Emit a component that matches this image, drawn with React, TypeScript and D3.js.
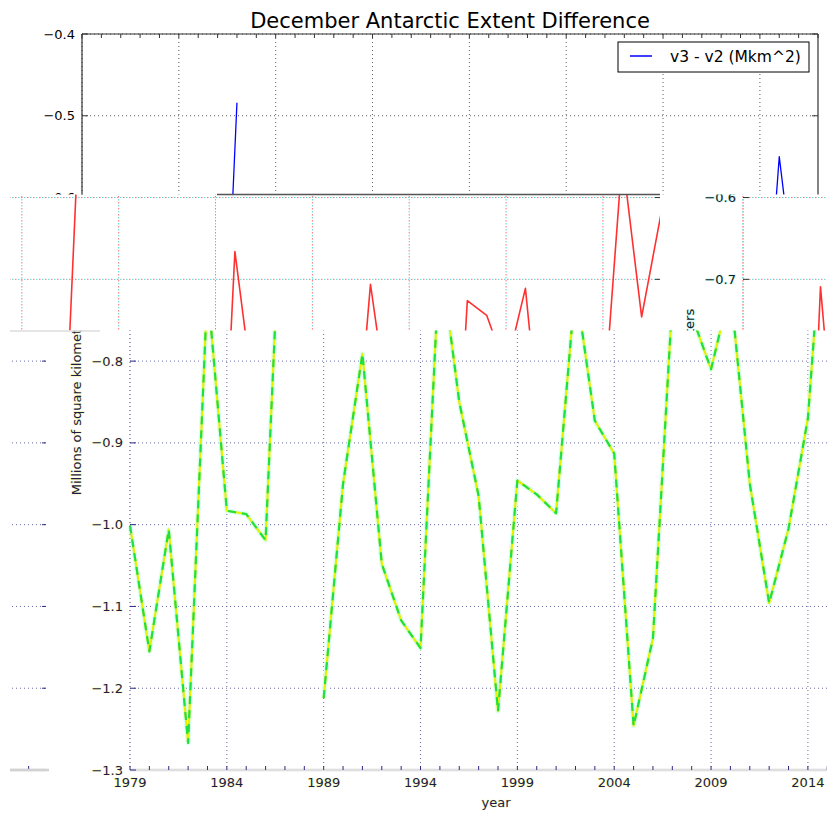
import React from 'react'
import * as d3 from 'd3'

// December Antarctic extent, v3 - v2, millions of km^2 (1988 missing)
const years = [
  1979, 1980, 1981, 1982, 1983, 1984, 1985, 1986, 1987, 1988,
  1989, 1990, 1991, 1992, 1993, 1994, 1995, 1996, 1997, 1998,
  1999, 2000, 2001, 2002, 2003, 2004, 2005, 2006, 2007, 2008,
  2009, 2010, 2011, 2012, 2013, 2014, 2015, 2016, 2017,
]
const diffV3V2: (number | null)[] = [
  -1.001, -1.155, -1.006, -1.267, -0.709, -0.983, -0.987, -1.019, -0.484, null,
  -1.212, -0.95, -0.791, -1.048, -1.117, -1.151, -0.666, -0.85, -0.965, -1.228,
  -0.946, -0.963, -0.986, -0.706, -0.873, -0.913, -1.246, -1.139, -0.726, -0.744,
  -0.81, -0.711, -0.95, -1.096, -1.005, -0.87, -0.55, -0.746, -0.62,
]
const xTickYears = [1979, 1984, 1989, 1994, 1999, 2004, 2009, 2014]
const yTicks = [-1.3, -1.2, -1.1, -1.0, -0.9, -0.8, -0.7, -0.6, -0.5, -0.4]

const title = 'December Antarctic Extent Difference'
const legendLabel = 'v3 - v2 (Mkm^2)'
const xLabel = 'year'
const yLabel = 'Millions of square kilometers'

const W = 827
const H = 813
const font = 'DejaVu Sans'

type Stroke = { color: string; width: number; dash?: string; offset?: number }
type Theme = {
  line: Stroke[]
  grid: Stroke[]
  spineLeft: Stroke[]
  spineBottom: Stroke[]
  spineOther: Stroke[]
  tick: string
  text: string
  halo?: string
}

const plain: Theme = {
  line: [{ color: '#0000ff', width: 1.3 }],
  grid: [{ color: '#333', width: 0.8, dash: '1 3' }],
  spineLeft: [{ color: '#333', width: 1.2 }],
  spineBottom: [{ color: '#333', width: 1.2 }],
  spineOther: [{ color: '#333', width: 1.2 }],
  tick: '#333',
  text: '#000',
}

const redShift: Theme = {
  line: [{ color: '#ff3030', width: 1.6 }],
  grid: [
    { color: '#ff7070', width: 1, dash: '1.5 4.5' },
    { color: '#5ad8d8', width: 1, dash: '1.5 4.5', offset: 3 },
  ],
  spineLeft: [
    { color: '#ff9090', width: 1, dash: '1.5 4.5' },
    { color: '#70c8c8', width: 1, dash: '1.5 4.5', offset: 3 },
  ],
  spineBottom: [{ color: '#ddd', width: 1.5 }],
  spineOther: [{ color: '#555', width: 1.2 }],
  tick: '#333',
  text: '#1a1a1a',
  halo: '#9af2f2',
}

const greenShift: Theme = {
  line: [
    { color: '#dcfff2', width: 5 },
    { color: '#e4f000', width: 2.2 },
    { color: '#20e040', width: 2.2, dash: '8 6' },
  ],
  grid: [{ color: '#6a6aa6', width: 1, dash: '1 3' }],
  spineLeft: [{ color: '#8484a4', width: 1, dash: '1 3' }],
  spineBottom: [
    { color: '#d2d2d2', width: 2.6 },
    { color: '#f2f2f2', width: 0.8 },
  ],
  spineOther: [{ color: '#8484a4', width: 1, dash: '1 3' }],
  tick: '#2a2a88',
  text: '#1c1c4c',
  halo: '#f6f690',
}

// the picture is broken into bands, each a copy of the chart moved sideways
const bands = [
  { id: 'b1', rect: [0, 0, 827, 194.5], dx: 0, theme: plain },
  { id: 'b2a', rect: [10, 194.5, 650, 136], dx: -157, theme: redShift },
  { id: 'b2b', rect: [660, 194.5, 167, 136], dx: 661, theme: redShift },
  { id: 'b3a', rect: [50, 330.5, 777, 483], dx: 48, theme: greenShift },
  { id: 'b3b', rect: [10, 330.5, 36, 445], dx: -770, theme: greenShift },
]
const seams = [
  { x1: 217, x2: 660, y: 194.5, color: '#555', w: 1.5 },
  { x1: 10, x2: 100, y: 331, color: '#ddd', w: 1.5 },
  { x1: 10, x2: 49, y: 770, color: '#d2d2d2', w: 2.6 },
]

const x = d3.scaleLinear().domain([1979, 2017]).range([82, 818])
const y = d3.scaleLinear().domain([-1.3, -0.4]).range([770, 34])
const fmt = d3.format('.1f')

const Seg = ({ strokes, x1, y1, x2, y2 }: any) => (
  <>
    {strokes.map((s: Stroke, i: number) => (
      <line key={i} x1={x1} y1={y1} x2={x2} y2={y2} stroke={s.color}
        strokeWidth={s.width} strokeDasharray={s.dash} strokeDashoffset={s.offset} />
    ))}
  </>
)

type Band = (typeof bands)[number]

const Chart = ({ band }: { band: Band }) => {
  const theme = band.theme
  const [x0, x1] = x.range()
  const [y0, y1] = y.range()
  const [bx, by, bw, bh] = band.rect
  // only keep texts whose box reaches into this band
  const seen = (l: number, r: number, t: number, b: number) =>
    r + band.dx > bx && l + band.dx < bx + bw && b > by && t < by + bh

  const lineGen = d3
    .line<number | null>()
    .defined((d) => d != null)
    .x((d, i) => x(years[i]))
    .y((d) => y(d as number))
  const path = lineGen(diffV3V2) || ''
  const t = {
    fill: theme.text,
    stroke: theme.halo || 'none',
    strokeWidth: theme.halo ? 0.7 : 0,
    paintOrder: 'stroke',
    fontFamily: font,
  }
  const cx = (x0 + x1) / 2
  const cy = (y0 + y1) / 2
  return (
    <g>
      {xTickYears.map((yr) => (
        <Seg key={'gx' + yr} strokes={theme.grid} x1={x(yr)} x2={x(yr)} y1={y1} y2={y0} />
      ))}
      {yTicks.map((v) => (
        <Seg key={'gy' + v} strokes={theme.grid} x1={x0} x2={x1} y1={y(v)} y2={y(v)} />
      ))}

      {theme.line.map((s, i) => (
        <path key={i} d={path} fill="none" stroke={s.color} strokeWidth={s.width}
          strokeDasharray={s.dash} strokeLinejoin="round" />
      ))}

      <Seg strokes={theme.spineLeft} x1={x0} x2={x0} y1={y1} y2={y0} />
      <Seg strokes={theme.spineOther} x1={x1} x2={x1} y1={y1} y2={y0} />
      <Seg strokes={theme.spineOther} x1={x0} x2={x1} y1={y1} y2={y1} />
      <Seg strokes={theme.spineBottom} x1={x0} x2={x1} y1={y0} y2={y0} />

      {years.map((yr) => (
        <g key={'tx' + yr} stroke={theme.tick} strokeWidth={1}>
          <line x1={x(yr)} x2={x(yr)} y1={y0} y2={y0 - 4} />
          <line x1={x(yr)} x2={x(yr)} y1={y1} y2={y1 + 4} />
        </g>
      ))}
      {yTicks.map((v) => (
        <g key={'ty' + v} stroke={theme.tick} strokeWidth={1}>
          <line x1={x0} x2={x0 + 6} y1={y(v)} y2={y(v)} />
          <line x1={x1} x2={x1 - 6} y1={y(v)} y2={y(v)} />
        </g>
      ))}

      {yTicks
        .filter((v) => seen(x0 - 38, x0 - 7, y(v) - 9, y(v) + 6))
        .map((v) => (
          <text key={'ly' + v} x={x0 - 7} y={y(v)} dy="0.35em" textAnchor="end" fontSize={13} {...t}>
            {fmt(v)}
          </text>
        ))}
      {xTickYears
        .filter((yr) => seen(x(yr) - 16, x(yr) + 16, y0 + 5, y0 + 20))
        .map((yr) => (
          <text key={'lx' + yr} x={x(yr)} y={y0 + 17} textAnchor="middle" fontSize={13} {...t}>
            {yr}
          </text>
        ))}

      {seen(cx - 200, cx + 200, 10, 30) && (
        <text x={cx} y={28} textAnchor="middle" fontSize={21} {...t}>
          {title}
        </text>
      )}
      {seen(cx - 20, cx + 20, y0 + 26, y0 + 40) && (
        <text x={cx - 2} y={y0 + 37} textAnchor="middle" fontSize={13} {...t}>
          {xLabel}
        </text>
      )}
      {seen(22, 36, cy - 100, cy + 100) && (
        <text transform={`translate(33,${cy}) rotate(-90)`} textAnchor="middle" fontSize={13} {...t}>
          {yLabel}
        </text>
      )}

      {seen(618, 809, 42, 72) && (
        <g>
          <rect x={618} y={42} width={191} height={30} fill="#fff" stroke="#000" strokeWidth={1} />
          <line x1={630} x2={652} y1={56} y2={56} stroke={theme.line[theme.line.length - 1].color}
            strokeWidth={1.3} />
          <text x={670} y={62} fontSize={15.5} {...t}>
            {legendLabel}
          </text>
        </g>
      )}
    </g>
  )
}

export default function App() {
  return (
    <svg width={W} height={H} style={{ position: 'absolute', left: 0, top: 0, display: 'block' }}>
      <defs>
        {bands.map((b) => (
          <clipPath key={b.id} id={b.id}>
            <rect x={b.rect[0]} y={b.rect[1]} width={b.rect[2]} height={b.rect[3]} />
          </clipPath>
        ))}
      </defs>
      <rect width={W} height={H} fill="#fff" />
      {bands.map((b) => (
        <g key={b.id} clipPath={`url(#${b.id})`}>
          <g transform={`translate(${b.dx},0)`}>
            <Chart band={b} />
          </g>
        </g>
      ))}
      {seams.map((s, i) => (
        <line key={i} x1={s.x1} x2={s.x2} y1={s.y} y2={s.y} stroke={s.color} strokeWidth={s.w} />
      ))}
    </svg>
  )
}
